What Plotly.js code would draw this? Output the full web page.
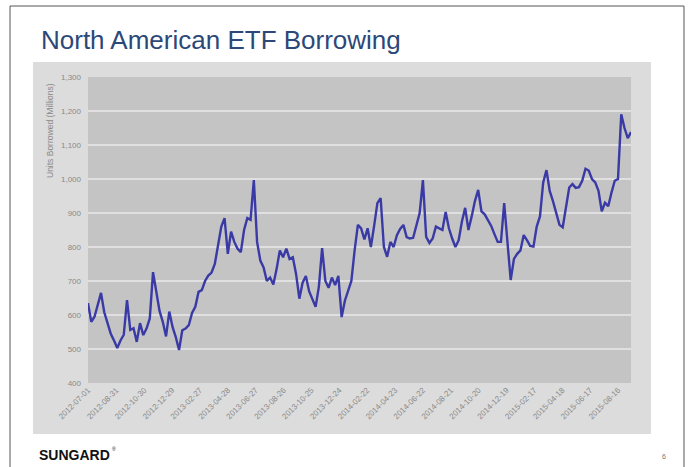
<!DOCTYPE html>
<html>
<head>
<meta charset="utf-8">
<script src="https://cdn.plot.ly/plotly-3.0.1.min.js"></script>
<style>
  html, body { margin: 0; padding: 0; background: #ffffff; }
  #chart { width: 692px; height: 467px; }
</style>
</head>
<body>
<div id="chart"></div>
<script>
// ---- Data (weekly readings) ----
const startDate = '2012-07-01';
const stepDays = 7;
const unitsBorrowed = [
  635, 580, 595, 630, 665, 608, 575, 545, 525, 503,
  525, 542, 644, 556, 561, 521, 576, 541, 560, 590,
  726, 670, 612, 580, 537, 610, 565, 535, 497, 555,
  560, 570, 606, 624, 668, 673, 700, 716, 725, 750,
  808, 860, 885, 780, 845, 815, 795, 785, 850, 885,
  880, 997, 815, 760, 740, 700, 710, 690, 735, 790,
  770, 795, 765, 770, 720, 648, 695, 715, 670, 644,
  624, 683, 797, 700, 680, 710, 688, 715, 594, 642,
  668, 700, 790, 865, 855, 822, 855, 800, 862, 929,
  944, 800, 771, 815, 800, 835, 853, 865, 829, 825,
  827, 860, 900, 997, 830, 812, 825, 860, 855, 850,
  903, 855, 825, 800, 820, 875, 915, 850, 890, 935,
  968, 905, 896, 880, 862, 838, 815, 815, 929, 815,
  703, 765, 780, 790, 835, 820, 803, 801, 860, 890,
  990, 1026, 965, 935, 900, 865, 858, 915, 975, 985,
  974, 976, 995, 1030, 1025, 1000, 990, 965, 905, 930,
  920, 960, 995, 1000, 1190, 1150, 1120, 1138
];
const tickDates = [
  '2012-07-01', '2012-08-31', '2012-10-30', '2012-12-29', '2013-02-27',
  '2013-04-28', '2013-06-27', '2013-08-26', '2013-10-25', '2013-12-24',
  '2014-02-22', '2014-04-23', '2014-06-22', '2014-08-21', '2014-10-20',
  '2014-12-19', '2015-02-17', '2015-04-18', '2015-06-17', '2015-08-16'
];
const yTicks = [400, 500, 600, 700, 800, 900, 1000, 1100, 1200, 1300];

// dates for each weekly reading
const t0 = Date.parse(startDate + 'T00:00:00Z');
const dates = unitsBorrowed.map((_, i) =>
  new Date(t0 + i * stepDays * 86400000).toISOString().slice(0, 10));

const FONT = 'Liberation Sans, Arial, Helvetica, sans-serif';

const trace = {
  type: 'scatter',
  mode: 'lines',
  x: dates,
  y: unitsBorrowed,
  line: { color: '#3A3AA6', width: 2.4 },
  hoverinfo: 'x+y'
};

const layout = {
  width: 692,
  height: 467,
  margin: { l: 88, r: 61, t: 77, b: 84 },
  paper_bgcolor: '#ffffff',
  plot_bgcolor: '#C4C4C4',
  showlegend: false,
  font: { family: FONT, color: '#8a8a8a' },
  title: {
    text: 'North American ETF Borrowing',
    font: { family: FONT, size: 26, color: '#2C4878' },
    xref: 'container', yref: 'container',
    x: 41 / 692, xanchor: 'left',
    y: 1 - 40 / 467, yanchor: 'middle'
  },
  xaxis: {
    type: 'date',
    range: [dates[0], dates[dates.length - 1]],
    tickmode: 'array',
    tickvals: tickDates,
    ticktext: tickDates,
    tickangle: -45,
    tickfont: { family: FONT, size: 8, color: '#8a8a8a' },
    showgrid: false,
    zeroline: false,
    showline: false,
    ticks: ''
  },
  yaxis: {
    range: [400, 1300],
    tickmode: 'array',
    tickvals: yTicks,
    tickformat: ',d',
    tickfont: { family: FONT, size: 8, color: '#8a8a8a' },
    showgrid: true,
    gridcolor: '#E0E0E0',
    gridwidth: 1.2,
    zeroline: false,
    showline: false,
    ticks: '',
    ticklabelstandoff: 6
  },
  shapes: [
    // outer chart box
    { type: 'rect', xref: 'paper', yref: 'paper', layer: 'below',
      x0: -0.1013, x1: 1.0368, y0: -0.1667, y1: 1.049,
      fillcolor: '#DCDCDC', line: { width: 0 } },
    // plot area
    { type: 'rect', xref: 'paper', yref: 'paper', layer: 'below',
      x0: 0, x1: 1, y0: 0, y1: 1,
      fillcolor: '#C4C4C4', line: { width: 0 } },
    // slide border
    { type: 'rect', xref: 'paper', yref: 'paper', layer: 'above',
      x0: -0.1436, x1: 1.0976, y0: -0.35, y1: 1.232,
      fillcolor: 'rgba(0,0,0,0)', line: { color: '#555555', width: 1 } }
  ],
  annotations: [
    { text: 'Units Borrowed (Millions)', textangle: -90,
      xref: 'paper', yref: 'paper', x: (50 - 88) / 543, y: 1 - (131 - 77) / 306,
      xanchor: 'center', yanchor: 'middle', showarrow: false,
      font: { family: FONT, size: 8.5, color: '#8a8a8a' } },
    { text: '<b>SUNGARD</b>',
      xref: 'paper', yref: 'paper', x: (37 - 88) / 543, y: -(455 - 383) / 306,
      xanchor: 'left', yanchor: 'middle', showarrow: false,
      font: { family: FONT, size: 14, color: '#111111' } },
    { text: '®',
      xref: 'paper', yref: 'paper', x: (110 - 88) / 543, y: -(449 - 383) / 306,
      xanchor: 'left', yanchor: 'middle', showarrow: false,
      font: { family: FONT, size: 5, color: '#111111' } },
    { text: '6',
      xref: 'paper', yref: 'paper', x: (664 - 88) / 543, y: -(456 - 383) / 306,
      xanchor: 'center', yanchor: 'middle', showarrow: false,
      font: { family: FONT, size: 7, color: '#777777' } }
  ]
};

Plotly.newPlot('chart', [trace], layout, { displayModeBar: false, staticPlot: true });
</script>
</body>
</html>
